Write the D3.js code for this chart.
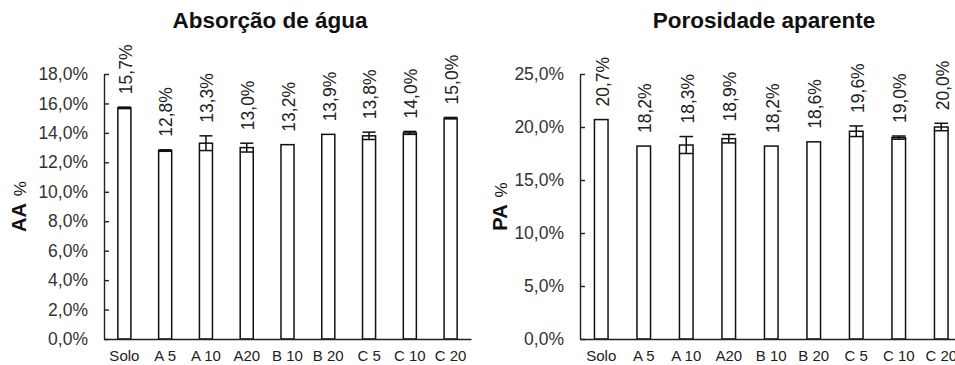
<!DOCTYPE html>
<html>
<head>
<meta charset="utf-8">
<script src="https://cdn.jsdelivr.net/npm/d3@7"></script>
<style>
  body { margin: 0; background: #fff; }
  svg { display: block; font-family: "Liberation Sans", Arial, sans-serif; }
  .axis path, .axis line { stroke: #222; stroke-width: 1.4px; }
  .axis text { fill: #333; font-size: 17.5px; }
  .bar { fill: #fff; stroke: #111; stroke-width: 1.5px; }
  .err { stroke: #111; stroke-width: 1.5px; }
</style>
</head>
<body>
<svg id="chart" width="955" height="365"></svg>
<script>
// categories on the x axis (same for both charts)
var categories = ["Solo", "A 5", "A 10", "A20", "B 10", "B 20", "C 5", "C 10", "C 20"];

// Absorção de água (AA %)
var aaValues = [15.7, 12.8, 13.3, 13.0, 13.2, 13.9, 13.8, 14.0, 15.0];
var aaErrors = [0.05, 0.05, 0.5, 0.3, 0, 0, 0.25, 0.1, 0.05];
var aaTicks = [0, 2, 4, 6, 8, 10, 12, 14, 16, 18];

// Porosidade aparente (PA %)
var paValues = [20.7, 18.2, 18.3, 18.9, 18.2, 18.6, 19.6, 19.0, 20.0];
var paErrors = [0, 0, 0.8, 0.4, 0, 0, 0.5, 0.15, 0.35];
var paTicks = [0, 5, 10, 15, 20, 25];

// comma decimal, like the original
var ptBR = d3.formatLocale({decimal: ",", thousands: ".", grouping: [3], currency: ["R$", ""]});
var fmt = ptBR.format(".1f");

var svg = d3.select("#chart");

function drawPanel(cfg) {
    var y = d3.scaleLinear()
        .domain([0, d3.max(cfg.ticks)])
        .range([339, 74]);

    var x = d3.scaleBand()
        .domain(categories)
        .range([cfg.left, cfg.right])
        .paddingInner(0.68)
        .paddingOuter(0.34);

    var g = svg.append("g");

    // title
    g.append("text")
        .attr("x", cfg.titleX)
        .attr("y", 28)
        .attr("text-anchor", "middle")
        .style("font-size", "22.5px")
        .style("font-weight", "bold")
        .style("fill", "#111")
        .text(cfg.title);

    // y axis title (rotated) - letters bold, % lighter
    var yt = g.append("text")
        .attr("transform", "translate(" + cfg.yTitleX + "," + ((y.range()[0] + y.range()[1]) / 2) + ") rotate(-90)")
        .attr("text-anchor", "middle")
        .style("fill", "#111");
    yt.append("tspan").style("font-size", "20px").style("font-weight", "bold").text(cfg.yTitle);
    yt.append("tspan").attr("dx", 7).style("font-size", "17px").text("%");

    // bars
    g.selectAll(".bar")
        .data(cfg.values)
        .enter()
        .append("rect")
            .attr("class", "bar")
            .attr("x", function(d, i) { return x(categories[i]); })
            .attr("y", function(d) { return y(d); })
            .attr("width", x.bandwidth())
            .attr("height", function(d) { return y(0) - y(d); });

    // error bars
    cfg.values.forEach(function(v, i) {
        var e = cfg.errors[i];
        if (!e) return;
        var cx = x(categories[i]) + x.bandwidth() / 2;
        var half = x.bandwidth() / 2;
        g.append("line").attr("class", "err")
            .attr("x1", cx).attr("x2", cx)
            .attr("y1", y(v - e)).attr("y2", y(v + e));
        [v - e, v + e].forEach(function(val) {
            g.append("line").attr("class", "err")
                .attr("x1", cx - half).attr("x2", cx + half)
                .attr("y1", y(val)).attr("y2", y(val));
        });
    });

    // value labels, rotated
    g.selectAll(".lbl")
        .data(cfg.values)
        .enter()
        .append("text")
            .attr("class", "lbl")
            .attr("transform", function(d, i) {
                var cx = x(categories[i]) + x.bandwidth() / 2 + 1;
                var top = y(d + cfg.errors[i]) - 13;
                return "translate(" + cx + "," + top + ") rotate(-90)";
            })
            .attr("dy", "0.36em")
            .style("font-size", "17.5px")
            .style("fill", "#222")
            .text(function(d) { return fmt(d) + "%"; });

    // y axis with inward ticks
    var yAxis = d3.axisLeft(y)
        .tickValues(cfg.ticks)
        .tickSizeInner(-5)
        .tickSizeOuter(0)
        .tickPadding(16)
        .tickFormat(function(d) { return fmt(d) + "%"; });

    g.append("g")
        .attr("class", "y axis")
        .attr("transform", "translate(" + cfg.left + ",0)")
        .call(yAxis);

    // x axis: line and labels only
    var xAxis = d3.axisBottom(x).tickSize(0).tickPadding(11);
    var xg = g.append("g")
        .attr("class", "x axis")
        .attr("transform", "translate(0," + y(0) + ")")
        .call(xAxis);
    xg.selectAll("text").style("font-size", "15px").style("fill", "#222");
}

drawPanel({
    title: "Absorção de água", titleX: 270,
    yTitle: "AA", yTitleX: 26,
    values: aaValues, errors: aaErrors, ticks: aaTicks,
    left: 104, right: 471
});

drawPanel({
    title: "Porosidade aparente", titleX: 764,
    yTitle: "PA", yTitleX: 507,
    values: paValues, errors: paErrors, ticks: paTicks,
    left: 580, right: 962.5
});
</script>
</body>
</html>
